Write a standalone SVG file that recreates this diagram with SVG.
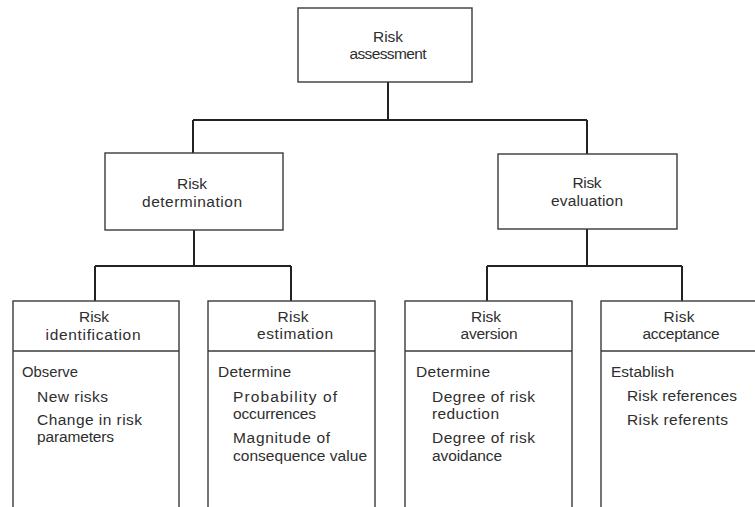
<svg xmlns="http://www.w3.org/2000/svg" width="755" height="507" viewBox="0 0 755 507">
  <style>
    .box { fill: #ffffff; stroke: #3a3a3a; stroke-width: 1.4; }
    .div { stroke: #3a3a3a; stroke-width: 1.4; fill: none; }
    .link { stroke: #222222; stroke-width: 2; fill: none; }
    text { font-family: "Liberation Sans", Arial, sans-serif; font-size: 15.5px; fill: #2e2e2e; }
    .h { text-anchor: middle; }
  </style>
  <rect width="755" height="507" fill="#ffffff"/>

  <!-- connectors -->
  <g id="connectors">
    <path class="link" d="M388,82 V120 M193,120 H587 M193,120 V153 M587,120 V154"/>
    <path class="link" d="M194,230 V266 M95,266 H291 M95,266 V301 M291,266 V301"/>
    <path class="link" d="M587,229 V266 M487,266 H682 M487,266 V301 M682,266 V301"/>
  </g>

  <!-- level 0 -->
  <g id="risk-assessment">
    <rect class="box" x="298" y="8" width="174" height="74"/>
    <text class="h" x="388" y="42" textLength="30" lengthAdjust="spacing">Risk</text>
    <text class="h" x="388" y="59" textLength="77" lengthAdjust="spacing">assessment</text>
  </g>

  <!-- level 1 -->
  <g id="risk-determination">
    <rect class="box" x="105" y="153" width="178" height="77"/>
    <text class="h" x="192" y="189" textLength="30" lengthAdjust="spacing">Risk</text>
    <text class="h" x="192" y="207" textLength="100" lengthAdjust="spacing">determination</text>
  </g>
  <g id="risk-evaluation">
    <rect class="box" x="498" y="154" width="179" height="75"/>
    <text class="h" x="587" y="188" textLength="29" lengthAdjust="spacing">Risk</text>
    <text class="h" x="587" y="206" textLength="72" lengthAdjust="spacing">evaluation</text>
  </g>

  <!-- level 2 -->
  <g id="risk-identification">
    <rect class="box" x="13" y="301" width="166" height="230"/>
    <line class="div" x1="13" y1="351" x2="179" y2="351"/>
    <text class="h" x="94" y="322" textLength="30" lengthAdjust="spacing">Risk</text>
    <text class="h" x="93" y="340" textLength="95" lengthAdjust="spacing">identification</text>
    <text x="22" y="377" textLength="56" lengthAdjust="spacingAndGlyphs">Observe</text>
    <text x="37" y="402" textLength="71" lengthAdjust="spacing">New risks</text>
    <text x="37" y="425" textLength="105" lengthAdjust="spacing">Change in risk</text>
    <text x="37" y="442" textLength="77" lengthAdjust="spacing">parameters</text>
  </g>
  <g id="risk-estimation">
    <rect class="box" x="208" y="301" width="167" height="230"/>
    <line class="div" x1="208" y1="351" x2="375" y2="351"/>
    <text class="h" x="293" y="322" textLength="31" lengthAdjust="spacing">Risk</text>
    <text class="h" x="295" y="339" textLength="76" lengthAdjust="spacing">estimation</text>
    <text x="218" y="377" textLength="73" lengthAdjust="spacing">Determine</text>
    <text x="233" y="402" textLength="104" lengthAdjust="spacing">Probability of</text>
    <text x="233" y="419" textLength="83" lengthAdjust="spacing">occurrences</text>
    <text x="233" y="443" textLength="97" lengthAdjust="spacing">Magnitude of</text>
    <text x="233" y="461" textLength="134" lengthAdjust="spacing">consequence value</text>
  </g>
  <g id="risk-aversion">
    <rect class="box" x="405" y="301" width="167" height="230"/>
    <line class="div" x1="405" y1="351" x2="572" y2="351"/>
    <text class="h" x="486" y="322" textLength="30" lengthAdjust="spacing">Risk</text>
    <text class="h" x="489" y="339" textLength="57" lengthAdjust="spacing">aversion</text>
    <text x="416" y="377" textLength="74" lengthAdjust="spacing">Determine</text>
    <text x="432" y="402" textLength="103" lengthAdjust="spacing">Degree of risk</text>
    <text x="432" y="419" textLength="67" lengthAdjust="spacing">reduction</text>
    <text x="432" y="443" textLength="103" lengthAdjust="spacing">Degree of risk</text>
    <text x="432" y="461" textLength="70" lengthAdjust="spacing">avoidance</text>
  </g>
  <g id="risk-acceptance">
    <rect class="box" x="601" y="301" width="167" height="230"/>
    <line class="div" x1="601" y1="351" x2="768" y2="351"/>
    <text class="h" x="679" y="322" textLength="31" lengthAdjust="spacing">Risk</text>
    <text class="h" x="681" y="339" textLength="77" lengthAdjust="spacing">acceptance</text>
    <text x="611" y="377" textLength="63" lengthAdjust="spacing">Establish</text>
    <text x="627" y="401" textLength="110" lengthAdjust="spacing">Risk references</text>
    <text x="627" y="425" textLength="101" lengthAdjust="spacing">Risk referents</text>
  </g>
</svg>
